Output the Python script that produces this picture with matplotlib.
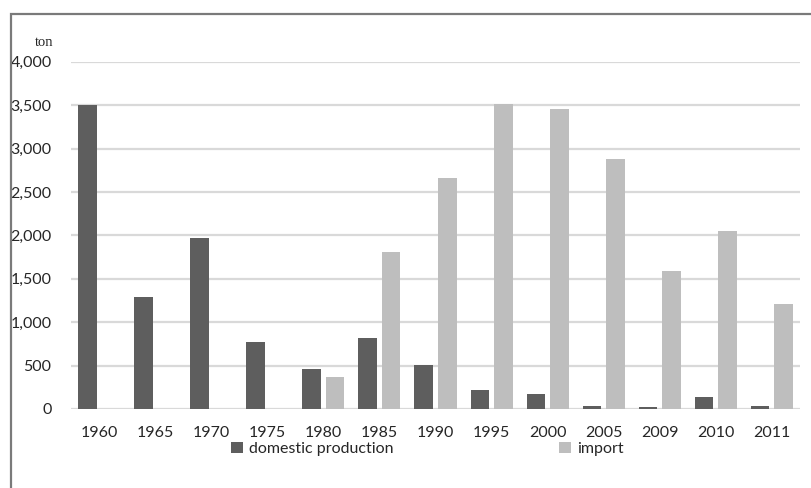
import numpy as np
import matplotlib.pyplot as plt
from matplotlib.patches import Rectangle

years = ["1960", "1965", "1970", "1975", "1980", "1985", "1990",
         "1995", "2000", "2005", "2009", "2010", "2011"]
domestic = [3500, 1290, 1975, 770, 455, 820, 510, 215, 175, 38, 27, 142, 38]
imports = [0, 0, 0, 0, 365, 1810, 2660, 3510, 3450, 2875, 1595, 2045, 1205]
yticks = [0, 500, 1000, 1500, 2000, 2500, 3000, 3500, 4000]

dark = "#5e5e5e"
light = "#bebebe"
font = "Lato"
txt = "#262626"

W, H = 812, 488
fig = plt.figure(figsize=(W / 100, H / 100), dpi=100)
ax = fig.add_axes([71 / W, 79 / H, 729 / W, 347.3 / H])

x = np.arange(len(years))
bw = 0.33
off = 0.21
ax.bar(x - off, domestic, bw, color=dark, label="domestic production", zorder=3)
ax.bar(x + off, imports, bw, color=light, label="import", zorder=3)

ax.set_xlim(-0.5, len(years) - 0.5)
ax.set_ylim(0, 4000)
ax.set_yticks(yticks)
ax.set_yticklabels([f"{v:,}" for v in yticks], fontfamily=font, fontsize=11.5)
ax.set_xticks(x)
ax.set_xticklabels(years, fontfamily=font, fontsize=11.5)
ax.tick_params(axis="y", length=0, pad=14, colors=txt)
ax.tick_params(axis="x", length=0, pad=12, colors=txt)
ax.grid(axis="y", color="#d9d9d9", linewidth=1.6, zorder=0)
for s in ax.spines.values():
    s.set_visible(False)

# unit label above the value axis
fig.text(53 / W, 1 - 43 / H, "ton", family="Liberation Serif", fontsize=10.5,
         ha="right", va="center", color=txt)

leg = fig.legend(loc="center left", bbox_to_anchor=(231 / W, 1 - 449 / H),
                 ncol=2, frameon=False, borderpad=0, borderaxespad=0,
                 handlelength=0.75, handleheight=0.75, handletextpad=0.35,
                 columnspacing=10.4, prop={"family": font, "size": 11.5})
for t in leg.get_texts():
    t.set_color(txt)

# chart frame, only its top and left edges fall inside the image
fig.patches.append(Rectangle((11 / W, -0.1), 1.2, 1 - 14 / H + 0.1,
                             transform=fig.transFigure, fill=False,
                             edgecolor="#7a7a7a", linewidth=1.6))

fig.savefig("out.png", dpi=100)
